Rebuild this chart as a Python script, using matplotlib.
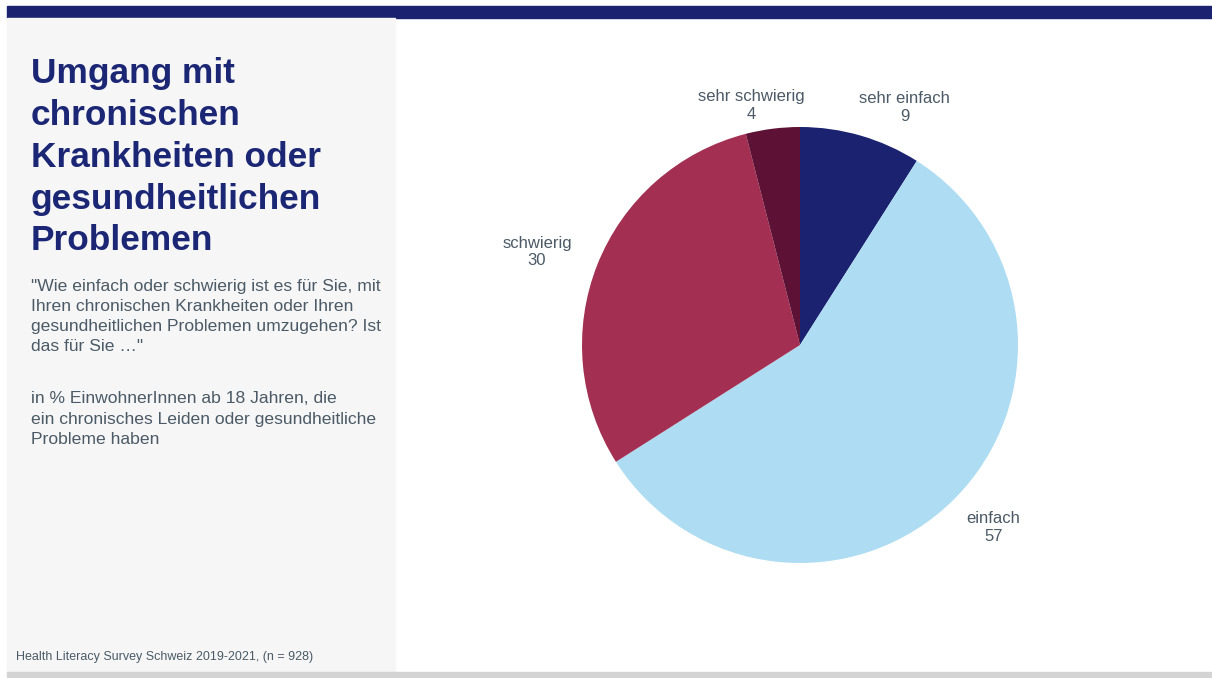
import numpy as np
import matplotlib.pyplot as plt
from matplotlib.patches import Rectangle

plt.rcParams['font.family'] = ['Liberation Sans', 'DejaVu Sans']

categories = ['sehr einfach', 'einfach', 'schwierig', 'sehr schwierig']
values = [9, 57, 30, 4]
colors = ['#1b2370', '#aedcf2', '#a33052', '#5d1235']

title = 'Umgang mit\nchronischen\nKrankheiten oder\ngesundheitlichen\nProblemen'
question = ('"Wie einfach oder schwierig ist es für Sie, mit\n'
            'Ihren chronischen Krankheiten oder Ihren\n'
            'gesundheitlichen Problemen umzugehen? Ist\n'
            'das für Sie …"')
basis = ('in % EinwohnerInnen ab 18 Jahren, die\n'
         'ein chronisches Leiden oder gesundheitliche\n'
         'Probleme haben')
source = 'Health Literacy Survey Schweiz 2019-2021, (n = 928)'

# label placement tweaks (distance from centre, angle offset in degrees)
label_dist = [1.19, 1.22, 1.28, 1.12]
label_rot = [-7.6, 1.7, 2.1, 4.2]

W, H = 1212, 678
fig = plt.figure(figsize=(W / 100, H / 100), dpi=100)
fig.patch.set_facecolor('white')

# background blocks (pixel coords -> figure fraction)
def px_rect(x, y, w, h, color):
    fig.patches.append(Rectangle((x / W, 1 - (y + h) / H), w / W, h / H,
                                 transform=fig.transFigure, color=color, zorder=0))

px_rect(7, 6, W - 7, 12, '#1b2370')
px_rect(7, 18, 388, 654, '#f6f6f6')
px_rect(7, 672, W - 7, 6, '#d4d4d4')

text_col = '#4b5a66'
fig.text(31 / W, 1 - 57 / H, title, fontsize=25.4, fontweight='bold',
         color='#1b2675', va='top', ha='left', linespacing=1.34)
fig.text(31 / W, 1 - 279 / H, question, fontsize=12.6, color=text_col,
         va='top', ha='left', linespacing=1.42)
fig.text(31 / W, 1 - 391 / H, basis, fontsize=12.6, color=text_col,
         va='top', ha='left', linespacing=1.46)
fig.text(16 / W, 1 - 657 / H, source, fontsize=9, color=text_col,
         va='center', ha='left')

# pie: center (800,345) px, radius 218 px
cx, cy, r = 800, 345, 218
half = 1.5 * r
ax = fig.add_axes([(cx - half) / W, (H - cy - half) / H, 2 * half / W, 2 * half / H])
wedges, _ = ax.pie(values, colors=colors, startangle=90, counterclock=False)
for w, c, v, d, rot in zip(wedges, categories, values, label_dist, label_rot):
    ang = np.deg2rad((w.theta1 + w.theta2) / 2 + rot)
    ax.text(d * np.cos(ang), d * np.sin(ang), f'{c}\n{v}', fontsize=12,
            color=text_col, ha='center', va='center', linespacing=1.22)
ax.set_xlim(-1.5, 1.5)
ax.set_ylim(-1.5, 1.5)
ax.set_aspect('equal')
ax.axis('off')

fig.savefig('out.png', dpi=100, facecolor=fig.get_facecolor())
